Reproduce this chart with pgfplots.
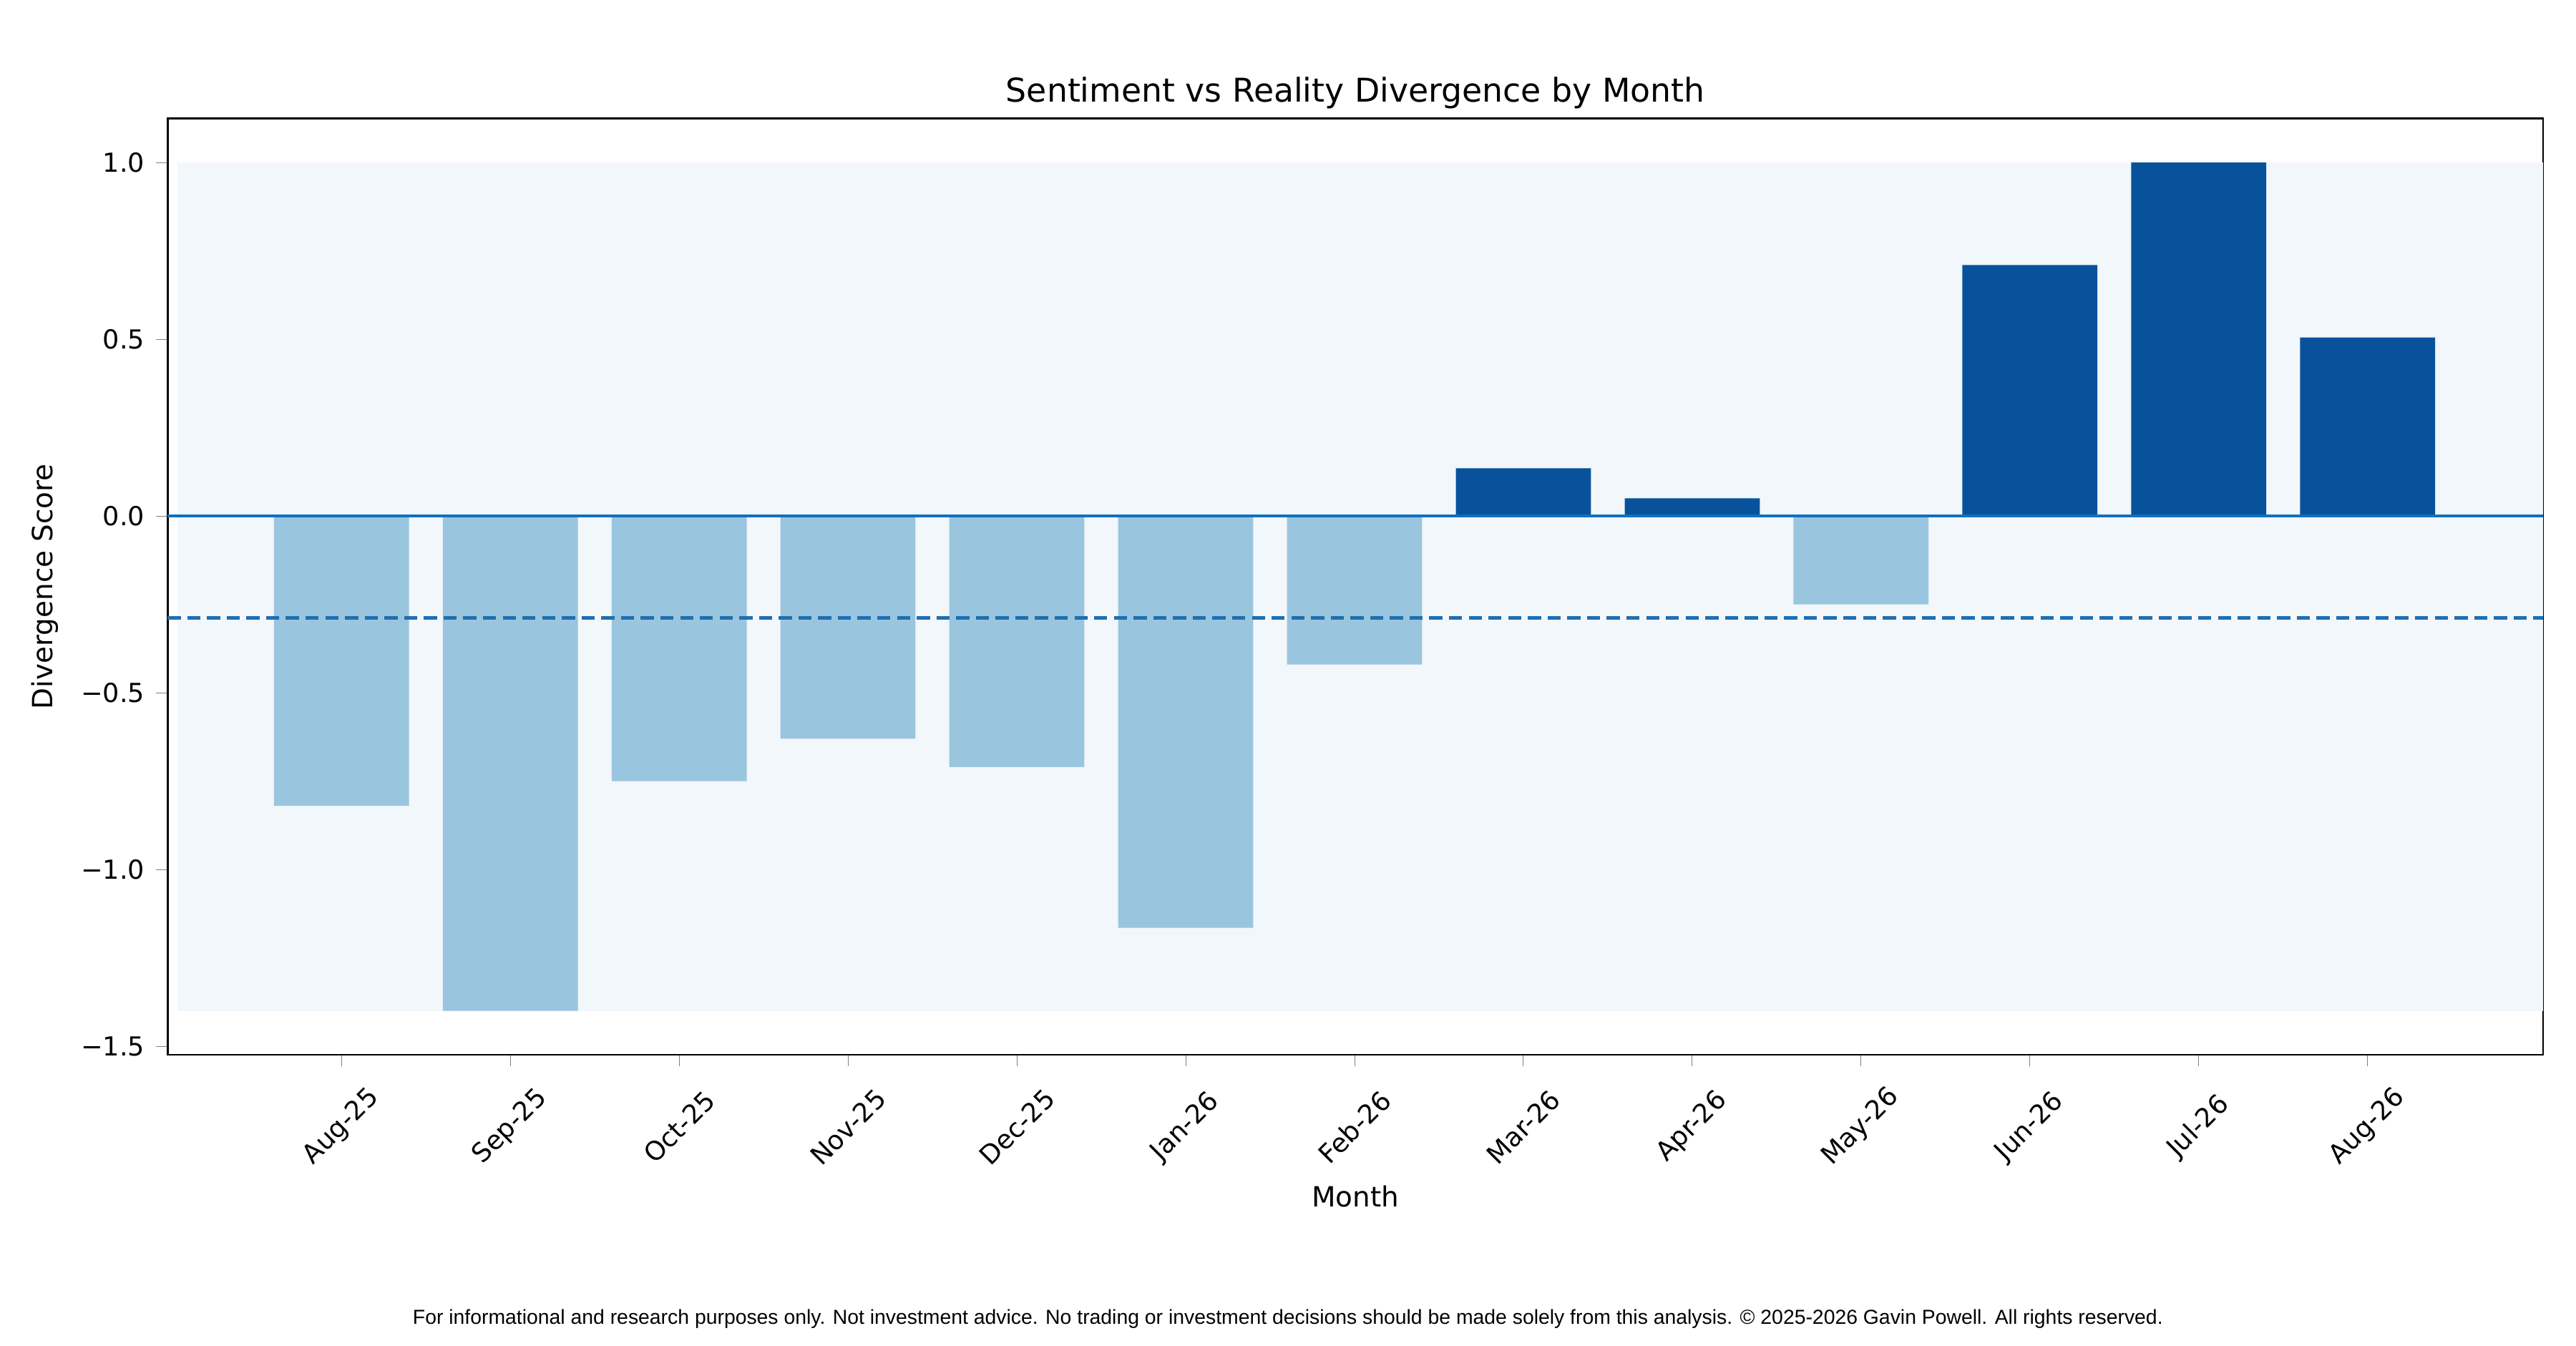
\documentclass[border=0pt]{standalone}
\usepackage{pgfplots}
\pgfplotsset{compat=1.18}
\usepackage{fontspec}
\setmainfont{DejaVu Sans}
\newfontfamily\foot{Liberation Sans}
\definecolor{lightbar}{HTML}{9AC5DE}
\definecolor{darkbar}{HTML}{08529B}
\definecolor{bgshade}{HTML}{F2F7FB}
\definecolor{zline}{HTML}{1070C0}
\definecolor{dline}{HTML}{1F6FB0}
\begin{document}
\begin{tikzpicture}
\path (0,0) rectangle (784bp,409.5bp);
\begin{axis}[
  at={(51bp,88.5bp)}, anchor=south west,
  scale only axis, width=723bp, height=285bp,
  xmin=-1.03, xmax=13.04, ymin=-1.524, ymax=1.125,
  xtick={0,...,12},
  xticklabels={Aug-25,Sep-25,Oct-25,Nov-25,Dec-25,Jan-26,Feb-26,Mar-26,Apr-26,May-26,Jun-26,Jul-26,Aug-26},
  xticklabel style={yshift=-18.5bp, rotate=45, anchor=center, font=\fontsize{8}{9}\selectfont},
  ytick={-1.5,-1,-0.5,0,0.5,1},
  yticklabels={−1.5,−1.0,−0.5,0.0,0.5,1.0},
  yticklabel style={font=\fontsize{8}{9}\selectfont},
  tick align=outside, tick pos=left, major tick length=3.5bp,
  title={Sentiment vs Reality Divergence by Month},
  title style={font=\fontsize{10}{12}\selectfont, yshift=-6.5bp},
  xlabel={Month}, ylabel={Divergence Score},
  xlabel style={font=\fontsize{8.5}{10}\selectfont, yshift=3.5bp},
  ylabel style={font=\fontsize{8.5}{10}\selectfont},
  axis line style={line width=0.6pt},
  clip=true,
]
\fill[bgshade] (axis cs:-0.97,-1.4) rectangle (axis cs:13.04,1.0);
\addplot[ybar, bar width=0.8, bar shift=0pt, fill=lightbar, draw=none] coordinates {
(0,-0.82) (1,-1.40) (2,-0.75) (3,-0.63) (4,-0.71) (5,-1.165) (6,-0.42) (9,-0.25)};
\addplot[ybar, bar width=0.8, bar shift=0pt, fill=darkbar, draw=none] coordinates {
(7,0.135) (8,0.05) (10,0.71) (11,1.0) (12,0.505)};
\addplot[zline, line width=0.7pt] coordinates {(-1.03,0) (13.04,0)};
\addplot[dline, dashed, line width=1pt, dash pattern=on 4bp off 2bp] coordinates {(-1.03,-0.288) (13.04,-0.288)};
\end{axis}
\node[font=\foot\fontsize{6.2}{7}\selectfont] at (392bp,8bp) {For informational and research purposes only. Not investment advice. No trading or investment decisions should be made solely from this analysis. © 2025-2026 Gavin Powell. All rights reserved.};
\end{tikzpicture}
\end{document}
